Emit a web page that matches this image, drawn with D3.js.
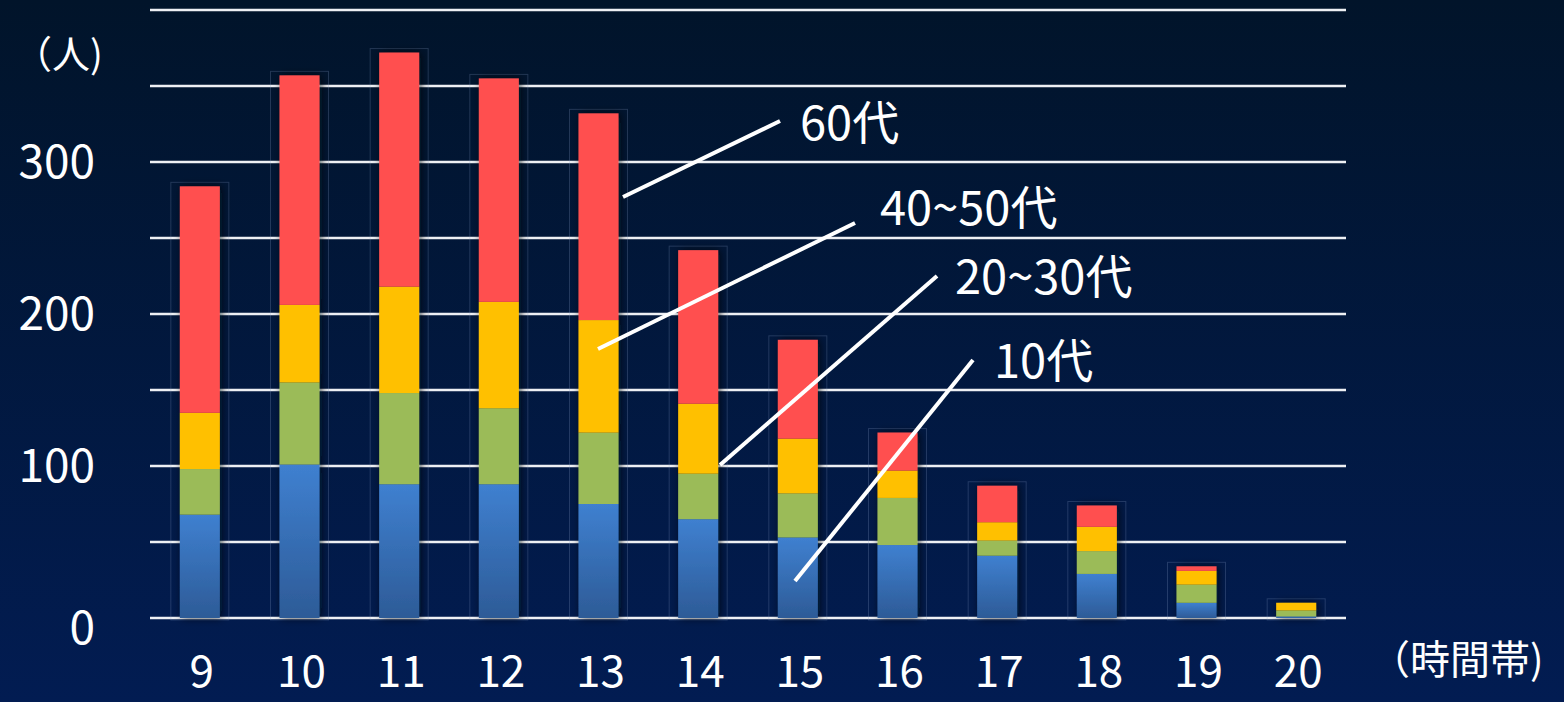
<!DOCTYPE html>
<html>
<head>
<meta charset="utf-8">
<script src="https://cdn.jsdelivr.net/npm/d3@7"></script>
<style>
  html, body { margin: 0; padding: 0; background: #011228; overflow: hidden; }
  svg text { font-family: "Noto Sans CJK JP", "Noto Sans", sans-serif; fill: #fff; }
</style>
</head>
<body>
<div id="chart"></div>
<script>
// 時間帯別・年代別の人数
const hours = [9, 10, 11, 12, 13, 14, 15, 16, 17, 18, 19, 20];
const teens = [68, 101, 88, 88, 75, 65, 53, 48, 41, 29, 10, 1];
const twenties30s = [30, 54, 60, 50, 47, 30, 29, 31, 10, 15, 12, 4];
const forties50s = [37, 51, 70, 70, 74, 46, 36, 18, 12, 16, 9, 5];
const sixties = [149, 151, 154, 147, 136, 101, 65, 25, 24, 14, 3, 0];
const seriesNames = ["10代", "20~30代", "40~50代", "60代"];
const yTicks = [0, 100, 200, 300];

const W = 1564, H = 702;
const margin = { top: 10, bottom: 84, left: 150, right: 218 };

const rows = hours.map((h, i) => ({
  hour: h,
  "10代": teens[i],
  "20~30代": twenties30s[i],
  "40~50代": forties50s[i],
  "60代": sixties[i]
}));

const svg = d3.select('#chart').append('svg')
  .attr('width', W).attr('height', H).style('display', 'block');

const defs = svg.append('defs');
const bg = defs.append('linearGradient').attr('id', 'bg')
  .attr('x1', 0).attr('y1', 0).attr('x2', 0).attr('y2', 1);
bg.append('stop').attr('offset', '0%').attr('stop-color', '#01142a');
bg.append('stop').attr('offset', '100%').attr('stop-color', '#021c52');

const blue = defs.append('linearGradient').attr('id', 'blueGrad')
  .attr('x1', 0).attr('y1', 0).attr('x2', 0).attr('y2', 1);
blue.append('stop').attr('offset', '0%').attr('stop-color', '#3f80d0');
blue.append('stop').attr('offset', '100%').attr('stop-color', '#2d5b97');

const shadow = defs.append('filter').attr('id', 'shadow')
  .attr('x', '-50%').attr('y', '-10%').attr('width', '200%').attr('height', '120%');
shadow.append('feDropShadow').attr('dx', 2).attr('dy', 0)
  .attr('stdDeviation', 4).attr('flood-color', '#000814').attr('flood-opacity', 0.7);

svg.append('rect').attr('width', W).attr('height', H).attr('fill', 'url(#bg)');

// Scales
const x = d3.scaleBand().domain(hours).range([margin.left, W - margin.right]);
const y = d3.scaleLinear().domain([0, 400]).range([H - margin.bottom, margin.top]);
const barW = 40;

const colors = {
  "10代": 'url(#blueGrad)',
  "20~30代": '#9bbb59',
  "40~50代": '#ffc000',
  "60代": '#ff5050'
};

// Gridlines
svg.append('g').selectAll('line')
  .data(d3.range(0, 401, 50))
  .join('line')
  .attr('x1', margin.left).attr('x2', W - margin.right)
  .attr('y1', d => y(d)).attr('y2', d => y(d))
  .attr('stroke', '#eef0f4').attr('stroke-width', 2.5);

// faint frames around bars
const totals = rows.map(r => seriesNames.reduce((s, k) => s + r[k], 0));
svg.append('g').selectAll('rect')
  .data(rows)
  .join('rect')
  .attr('x', d => x(d.hour) + x.bandwidth() / 2 - barW / 2 - 9)
  .attr('width', barW + 18)
  .attr('y', (d, i) => y(totals[i]) - 4)
  .attr('height', (d, i) => y(0) - y(totals[i]) + 6)
  .attr('fill', 'none')
  .attr('stroke', 'rgba(140,160,200,0.25)')
  .attr('stroke-width', 1);

// Stacked bars
const stacked = d3.stack().keys(seriesNames)(rows);
const barG = svg.append('g').attr('filter', 'url(#shadow)');
barG.selectAll('g')
  .data(stacked)
  .join('g')
  .attr('fill', d => colors[d.key])
  .selectAll('rect')
  .data(d => d)
  .join('rect')
  .attr('x', d => x(d.data.hour) + x.bandwidth() / 2 - barW / 2)
  .attr('width', barW)
  .attr('y', d => y(d[1]))
  .attr('height', d => y(d[0]) - y(d[1]));

// Y labels
svg.append('g').selectAll('text')
  .data(yTicks)
  .join('text')
  .attr('x', 95)
  .attr('y', d => y(d) + (d === 0 ? 10 : 0))
  .attr('dy', '0.35em')
  .attr('text-anchor', 'end')
  .attr('font-size', 46)
  .text(d => d);

svg.append('text')
  .attr('x', 14).attr('y', 68)
  .attr('font-size', 38)
  .text('（人)');

// X labels
svg.append('g').selectAll('text')
  .data(hours)
  .join('text')
  .attr('x', d => x(d) + x.bandwidth() / 2 + 2)
  .attr('y', 687)
  .attr('text-anchor', 'middle')
  .attr('font-size', 44)
  .text(d => d);

svg.append('text')
  .attr('x', 1370).attr('y', 674)
  .attr('font-size', 40)
  .text('（時間帯)');

// Callout lines and labels
const callouts = [
  { name: "60代", line: [623, 197, 780, 121], tx: 800, ty: 140 },
  { name: "40~50代", line: [598, 349, 855, 223], tx: 880, ty: 225 },
  { name: "20~30代", line: [720, 465, 937, 276], tx: 955, ty: 294 },
  { name: "10代", line: [795, 581, 973, 360], tx: 994, ty: 378 }
];
const cg = svg.append('g');
cg.selectAll('line')
  .data(callouts)
  .join('line')
  .attr('x1', d => d.line[0]).attr('y1', d => d.line[1])
  .attr('x2', d => d.line[2]).attr('y2', d => d.line[3])
  .attr('stroke', '#fff').attr('stroke-width', 4);
cg.selectAll('text')
  .data(callouts)
  .join('text')
  .attr('x', d => d.tx).attr('y', d => d.ty)
  .attr('font-size', 47)
  .text(d => d.name);
</script>
</body>
</html>
